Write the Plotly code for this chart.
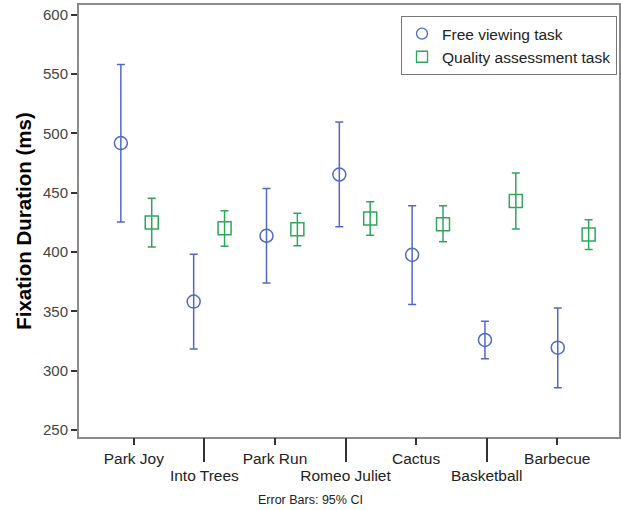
import numpy as np
import plotly.graph_objects as go

# ---- data ----
categories = ["Park Joy", "Into Trees", "Park Run", "Romeo Juliet", "Cactus", "Basketball", "Barbecue"]
series_names = ["Free viewing task", "Quality assessment task"]

free_mean = [491.8, 358.2, 413.7, 465.3, 397.6, 325.9, 319.4]
free_low = [425.4, 318.3, 374.0, 421.2, 355.7, 310.1, 285.7]
free_high = [558.1, 398.2, 453.5, 509.5, 438.9, 341.7, 352.9]

qual_mean = [424.8, 420.1, 419.3, 428.2, 423.5, 443.1, 414.7]
qual_low = [404.3, 404.9, 405.2, 414.2, 408.6, 419.5, 402.1]
qual_high = [445.4, 434.7, 432.7, 442.3, 438.9, 466.7, 427.1]

y_ticks = [250, 300, 350, 400, 450, 500, 550, 600]

# ---- styling ----
BLUE = "#5169c2"
GREEN = "#2fa65c"
FONT = "Liberation Sans, Arial, sans-serif"
OFFSET = 0.212

idx = np.arange(len(categories))
fm, fl, fh = map(np.array, (free_mean, free_low, free_high))
qm, ql, qh = map(np.array, (qual_mean, qual_low, qual_high))

fig = go.Figure()
fig.add_trace(go.Scatter(
    x=idx - OFFSET, y=fm, mode="markers", name=series_names[0], showlegend=False,
    marker=dict(symbol="circle-open", size=13, color=BLUE, line=dict(width=1.5, color=BLUE)),
    error_y=dict(type="data", symmetric=False, array=fh - fm, arrayminus=fm - fl,
                 color=BLUE, thickness=1.5, width=4),
))
fig.add_trace(go.Scatter(
    x=idx + OFFSET, y=qm, mode="markers", name=series_names[1], showlegend=False,
    marker=dict(symbol="square-open", size=13, color=GREEN, line=dict(width=1.5, color=GREEN)),
    error_y=dict(type="data", symmetric=False, array=qh - qm, arrayminus=qm - ql,
                 color=GREEN, thickness=1.5, width=4),
))
# legend entries (smaller symbols, as in the reference legend)
fig.add_trace(go.Scatter(
    x=[None], y=[None], mode="markers", name=series_names[0],
    marker=dict(symbol="circle-open", size=11, color=BLUE, line=dict(width=1.3, color=BLUE)),
))
fig.add_trace(go.Scatter(
    x=[None], y=[None], mode="markers", name=series_names[1],
    marker=dict(symbol="square-open", size=11, color=GREEN, line=dict(width=1.3, color=GREEN)),
))

even = [i for i in idx if i % 2 == 0]
odd = [i for i in idx if i % 2 == 1]

tick_range = [-0.777, 6.875]

fig.update_layout(
    width=621, height=510,
    margin=dict(l=79, r=0, t=5, b=73),
    paper_bgcolor="white", plot_bgcolor="white",
    font=dict(family=FONT, size=15, color="#222"),
    showlegend=True,
    legend=dict(
        x=0.9963, xanchor="right", y=0.9745, yanchor="top",
        bgcolor="white", bordercolor="#777", borderwidth=1,
        font=dict(family=FONT, size=15.5, color="#222"),
        itemwidth=30, tracegroupgap=0,
    ),
    xaxis=dict(
        range=[-0.787, 6.629], showticklabels=False, ticks="",
        showgrid=False, zeroline=False,
        showline=True, mirror=True, linecolor="#8a8a8a", linewidth=2,
    ),
    xaxis2=dict(
        overlaying="x", anchor="y", side="bottom", range=tick_range,
        tickmode="array", tickvals=even, ticktext=[categories[i] for i in even],
        ticks="outside", ticklen=7, tickwidth=1.5, tickcolor="#333",
        showgrid=False, zeroline=False, showline=False,
        tickfont=dict(family=FONT, size=15.5, color="#222"),
    ),
    xaxis3=dict(
        overlaying="x", anchor="y", side="bottom", range=tick_range,
        tickmode="array", tickvals=odd, ticktext=[categories[i] for i in odd],
        ticks="outside", ticklen=24, tickwidth=1.5, tickcolor="#333",
        showgrid=False, zeroline=False, showline=False,
        tickfont=dict(family=FONT, size=15.5, color="#222"),
    ),
    yaxis=dict(
        range=[244.1, 608.2], tickmode="array", tickvals=y_ticks,
        ticks="outside", ticklen=6, tickwidth=1.5, tickcolor="#333",
        showgrid=False, zeroline=False,
        showline=True, mirror=True, linecolor="#8a8a8a", linewidth=2,
        tickfont=dict(family=FONT, size=15, color="#444"),
        title=dict(text="Fixation Duration (ms)",
                   font=dict(family=FONT, size=20.5, color="#000", weight="bold"),
                   standoff=6),
    ),
    annotations=[dict(
        text="Error Bars: 95% CI", xref="paper", yref="paper",
        x=0.429, y=-0.1458, xanchor="center", yanchor="middle",
        showarrow=False, font=dict(family=FONT, size=12.5, color="#222"),
    )],
)

# invisible traces so the overlay tick axes render
fig.add_trace(go.Scatter(x=[None], y=[None], xaxis="x2", showlegend=False, hoverinfo="skip"))
fig.add_trace(go.Scatter(x=[None], y=[None], xaxis="x3", showlegend=False, hoverinfo="skip"))

fig.write_html("out.html")
